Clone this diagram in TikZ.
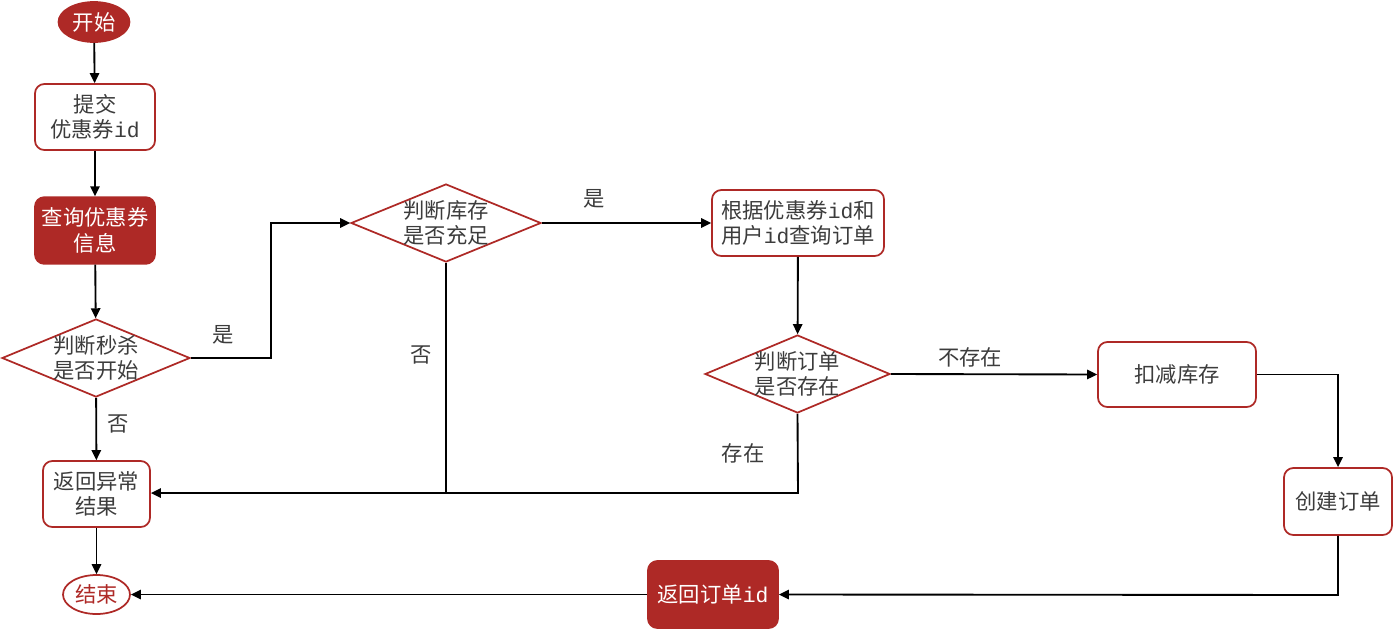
\documentclass[tikz,border=0pt]{standalone}
\usepackage{fontspec}
\setmainfont{Noto Sans CJK SC}
\newfontfamily\idfont{Liberation Mono}
\usetikzlibrary{shapes.geometric,arrows.meta}
\definecolor{dred}{RGB}{174,41,38}
\definecolor{tgray}{RGB}{60,60,60}
\newcommand{\idt}{{\idfont id}}
\tikzset{
  txt/.style={font=\fontsize{16}{19}\selectfont, text=tgray, align=center},
  box/.style={txt, draw=dred, line width=1.3pt, rounded corners=7pt, fill=white, inner sep=0pt},
  redbox/.style={box, fill=dred, text=white},
  dia/.style={diamond, draw=dred, line width=1.3pt, inner sep=0pt, fill=white},
  term/.style={ellipse, draw=dred, line width=1.3pt, inner sep=0pt, txt},
  arr/.style={line width=1.4pt, -{Triangle[length=7.5pt,width=7pt]}},
  lbl/.style={txt}
}
\begin{document}
\begin{tikzpicture}[x=0.75pt,y=-0.75pt]
\useasboundingbox (0,0) rectangle (1396,629);
% nodes
\node[term, fill=dred, text=white, minimum width=53.25pt, minimum height=30pt] (start) at (94,22) {开始};
\node[box, minimum width=90pt, minimum height=49.5pt] (submit) at (95,117) {提交\\优惠券\idt};
\node[redbox, minimum width=90pt, minimum height=50pt] (query) at (95,230.5) {查询优惠券\\信息};
\node[dia, minimum width=141pt, minimum height=58.5pt,
      label={[txt]center:判断秒杀\\是否开始}] (d1) at (96,358) {};
\node[box, minimum width=80.25pt, minimum height=49.5pt] (err) at (96.5,494) {返回异常\\结果};
\node[term, fill=white, text=dred, minimum width=50.25pt, minimum height=29.25pt] (end) at (96.5,594.5) {结束};
\node[dia, minimum width=142.5pt, minimum height=58.5pt,
      label={[txt]center:判断库存\\是否充足}] (d2) at (446,223) {};
\node[box, minimum width=129pt, minimum height=49.5pt] (byid) at (798,223) {根据优惠券\idt 和\\用户\idt 查询订单};
\node[dia, minimum width=138.75pt, minimum height=58.5pt,
      label={[txt]center:判断订单\\是否存在}] (d3) at (797.5,374) {};
\node[box, minimum width=118.5pt, minimum height=48.75pt] (deduct) at (1177,374.5) {扣减库存};
\node[box, minimum width=81pt, minimum height=50.25pt] (create) at (1338,501.5) {创建订单};
\node[redbox, minimum width=97.5pt, minimum height=50.25pt] (retid) at (713,594.5) {返回订单\idt};
% helper coordinates
\coordinate (c1) at (271,358);
\coordinate (c2) at (271,223);
\coordinate (j2) at (446,493);
\coordinate (j3) at (798,493);
\coordinate (c3) at (1338,374.5);
\coordinate (c4) at (1338,595);
% connectors
\draw[arr] (start) -- (submit);
\draw[arr] (submit) -- (query);
\draw[arr] (query) -- (d1);
\draw[arr] (d1.east) -- (c1) -- (c2) -- (d2.west);
\draw[arr] (d1) -- (err);
\draw[arr] (err) -- (end);
\draw[arr] (d2.south) -- (j2) -- (err.east |- j2);
\draw[line width=1.4pt] (d3.south) -- (j3) -- (j2);
\draw[arr] (d2.east) -- (byid.west);
\draw[arr] (byid) -- (d3);
\draw[arr] (d3.east) -- (deduct.west);
\draw[arr] (deduct.east) -- (c3) -- (create.north);
\draw[arr] (create.south) -- (c4) -- (retid.east);
\draw[arr] (retid.west) -- (end.east);
% labels
\node[lbl] (l1) at (223,335) {是};
\node[lbl] (l2) at (118,424) {否};
\node[lbl] (l3) at (421,355) {否};
\node[lbl] (l4) at (594,199) {是};
\node[lbl] (l5) at (743,453) {存在};
\node[lbl] (l6) at (970,357) {不存在};
\end{tikzpicture}
\end{document}
